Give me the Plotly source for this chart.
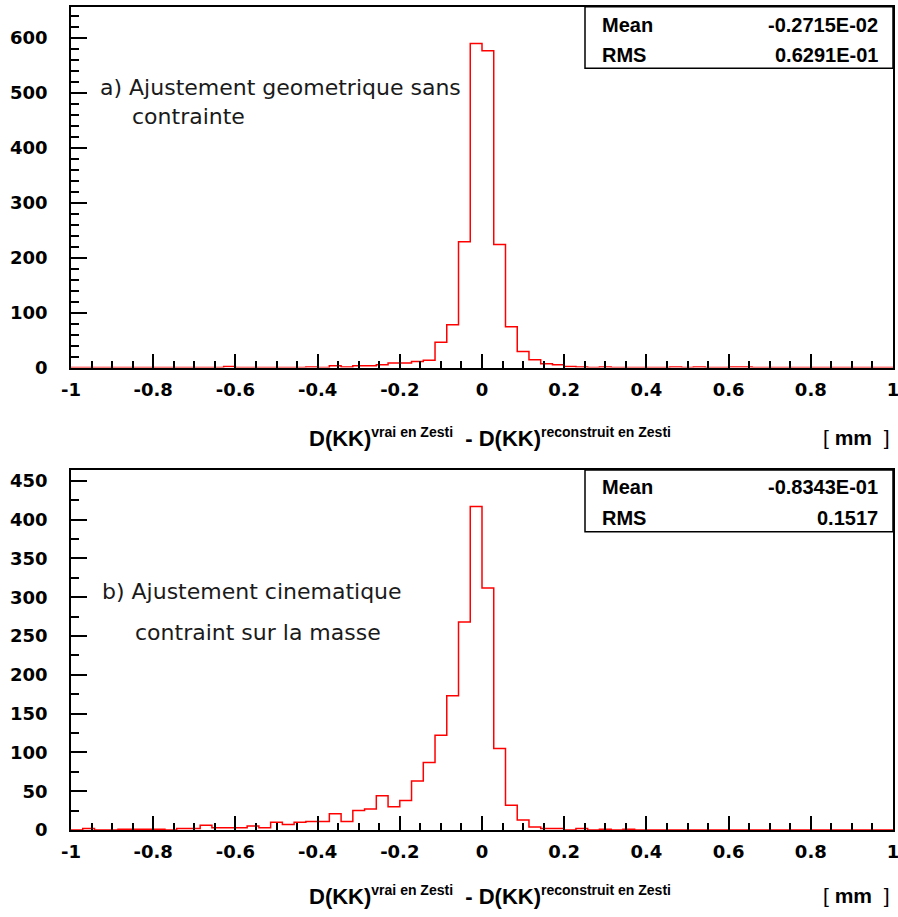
import plotly.graph_objects as go

# ---------------- data ----------------
BIN_LO = -1.0
BIN_HI = 1.0
N_BINS = 70

# panel a) : geometric fit without constraint
counts_a = [
    0, 0, 0, 0, 0, 0, 0, 0, 0, 0,
    0, 0, 0, 2, 0, 0, 0, 0, 0, 0,
    1, 0, 3, 1, 3, 3, 5, 8, 8, 11,
    13, 46, 78, 229, 590, 577, 224, 74, 29, 14,
    7, 5, 2, 1, 0, 1, 0, 0, 0, 0,
    0, 1, 0, 1, 0, 0, 1, 1, 0, 0,
    0, 0, 0, 0, 0, 0, 0, 0, 0, 0,
]

# panel b) : kinematic fit with mass constraint
counts_b = [
    0, 2, 0, 0, 1, 1, 1, 1, 0, 2,
    2, 6, 3, 3, 3, 5, 3, 10, 7, 10,
    11, 11, 21, 11, 25, 27, 44, 30, 38, 63,
    87, 122, 173, 268, 417, 312, 105, 32, 13, 4,
    2, 2, 0, 2, 0, 1, 0, 1, 0, 0,
    0, 0, 0, 0, 0, 0, 0, 0, 0, 0,
    0, 0, 0, 0, 0, 0, 0, 0, 0, 0,
]

x_tick_vals = [-1, -0.8, -0.6, -0.4, -0.2, 0, 0.2, 0.4, 0.6, 0.8, 1]
x_tick_text = ["-1", "-0.8", "-0.6", "-0.4", "-0.2", "0", "0.2", "0.4", "0.6", "0.8", "1"]

stats_a = [("Mean", "-0.2715E-02"), ("RMS", "0.6291E-01")]
stats_b = [("Mean", "-0.8343E-01"), ("RMS", "0.1517")]

label_a = ["a) Ajustement geometrique sans", "contrainte"]
label_b = ["b) Ajustement cinematique", "contraint sur la masse"]

ymax_a = 657
ymax_b = 464

# ---------------- layout helpers ----------------
W, H = 898, 917


def px(x):
    return x / W


def py(y):
    return 1 - y / H


edges = [BIN_LO + i * (BIN_HI - BIN_LO) / N_BINS for i in range(N_BINS + 1)]

RED = "#ff0000"
ARIAL = "Liberation Sans, Arial, sans-serif"
TICKFONT = dict(family="DejaVu Sans, sans-serif", size=18, color="black", weight="bold")

fig = go.Figure()
fig.add_trace(go.Scatter(x=edges, y=counts_a + [counts_a[-1]], mode="lines",
                         line=dict(color=RED, width=1.5, shape="hv"),
                         xaxis="x", yaxis="y", showlegend=False, hoverinfo="skip"))
fig.add_trace(go.Scatter(x=edges, y=counts_b + [counts_b[-1]], mode="lines",
                         line=dict(color=RED, width=1.5, shape="hv"),
                         xaxis="x2", yaxis="y2", showlegend=False, hoverinfo="skip"))

x_dom = [px(71), px(893)]
top_dom = [py(367.5), py(6.7)]
bot_dom = [py(830), py(470)]


def xaxis_cfg(anchor, domain):
    return dict(domain=domain, anchor=anchor, range=[BIN_LO, BIN_HI],
                tickmode="array", tickvals=x_tick_vals, ticktext=x_tick_text,
                ticks="inside", ticklen=14, tickwidth=1.5, tickcolor="black",
                minor=dict(tickmode="linear", tick0=-1, dtick=0.05, ticks="inside",
                           ticklen=7, tickwidth=1.5, tickcolor="black"),
                showline=True, linecolor="black", linewidth=1.5, mirror=True,
                showgrid=False, zeroline=False, tickfont=TICKFONT,
                ticklabelstandoff=5, ticklabeloverflow="allow", automargin=False)


def yaxis_cfg(anchor, domain, ymax, dtick, mdtick):
    return dict(domain=domain, anchor=anchor, range=[0, ymax],
                tickmode="linear", tick0=0, dtick=dtick,
                ticks="inside", ticklen=16, tickwidth=1.5, tickcolor="black",
                minor=dict(tickmode="linear", tick0=0, dtick=mdtick, ticks="inside",
                           ticklen=8, tickwidth=1.5, tickcolor="black"),
                showline=True, linecolor="black", linewidth=1.5, mirror=True,
                showgrid=False, zeroline=False, tickfont=TICKFONT,
                ticklabelstandoff=18, automargin=False)


fig.update_layout(
    template="none",
    width=W, height=H,
    margin=dict(l=0, r=0, t=0, b=0, pad=0),
    paper_bgcolor="white", plot_bgcolor="white",
    font=dict(family=ARIAL, color="black"),
    xaxis=xaxis_cfg("y", x_dom),
    yaxis=yaxis_cfg("x", top_dom, ymax_a, 100, 20),
    xaxis2=xaxis_cfg("y2", x_dom),
    yaxis2=yaxis_cfg("x2", bot_dom, ymax_b, 50, 25),
)

shapes = []
annotations = []
BOLD = dict(family=ARIAL, size=20, color="black", weight="bold")
HAND = dict(family="DejaVu Sans, sans-serif", size=22, color="#1a1a1a")


def stats_box(y_top, y_bot, rows, row_ys):
    shapes.append(dict(type="rect", xref="paper", yref="paper",
                       x0=px(585), x1=px(893), y0=py(y_bot), y1=py(y_top),
                       line=dict(color="black", width=1.5), fillcolor="white",
                       layer="above"))
    for (name, val), yy in zip(rows, row_ys):
        annotations.append(dict(xref="paper", yref="paper", x=px(600), y=py(yy),
                                xanchor="left", yanchor="middle", text=name,
                                showarrow=False, font=BOLD))
        annotations.append(dict(xref="paper", yref="paper", x=px(880), y=py(yy),
                                xanchor="right", yanchor="middle", text=val,
                                showarrow=False, font=BOLD))


stats_box(6.7, 68.3, stats_a, [25, 55])
stats_box(470, 531.7, stats_b, [487, 518])


def text_at(x, y, t, font, anchor="left"):
    annotations.append(dict(xref="paper", yref="paper", x=px(x), y=py(y),
                            xanchor=anchor, yanchor="middle", text=t,
                            showarrow=False, font=font))


text_at(98, 88, label_a[0], HAND)
text_at(130, 116, label_a[1], HAND)
text_at(100, 591, label_b[0], HAND)
text_at(133, 632, label_b[1], HAND)

SUP = '<sup><span style="font-size:14px">%s</span></sup>'
title_txt = ("<b>D(KK)" + SUP % "vrai en Zesti" + "  - D(KK)"
             + SUP % "reconstruit en Zesti" + "</b>")
unit_txt = "[ <b>mm</b>  ]"
for yy in (437, 895):
    text_at(307, yy, title_txt, dict(family=ARIAL, size=22, color="black"))
    text_at(892, yy, unit_txt, dict(family=ARIAL, size=21, color="black"), anchor="right")

fig.update_layout(shapes=shapes, annotations=annotations)
fig.write_html("out.html",
               config={"displayModeBar": False},
               post_script="document.body.style.margin='0px';"
                           "document.body.style.overflow='hidden';")
